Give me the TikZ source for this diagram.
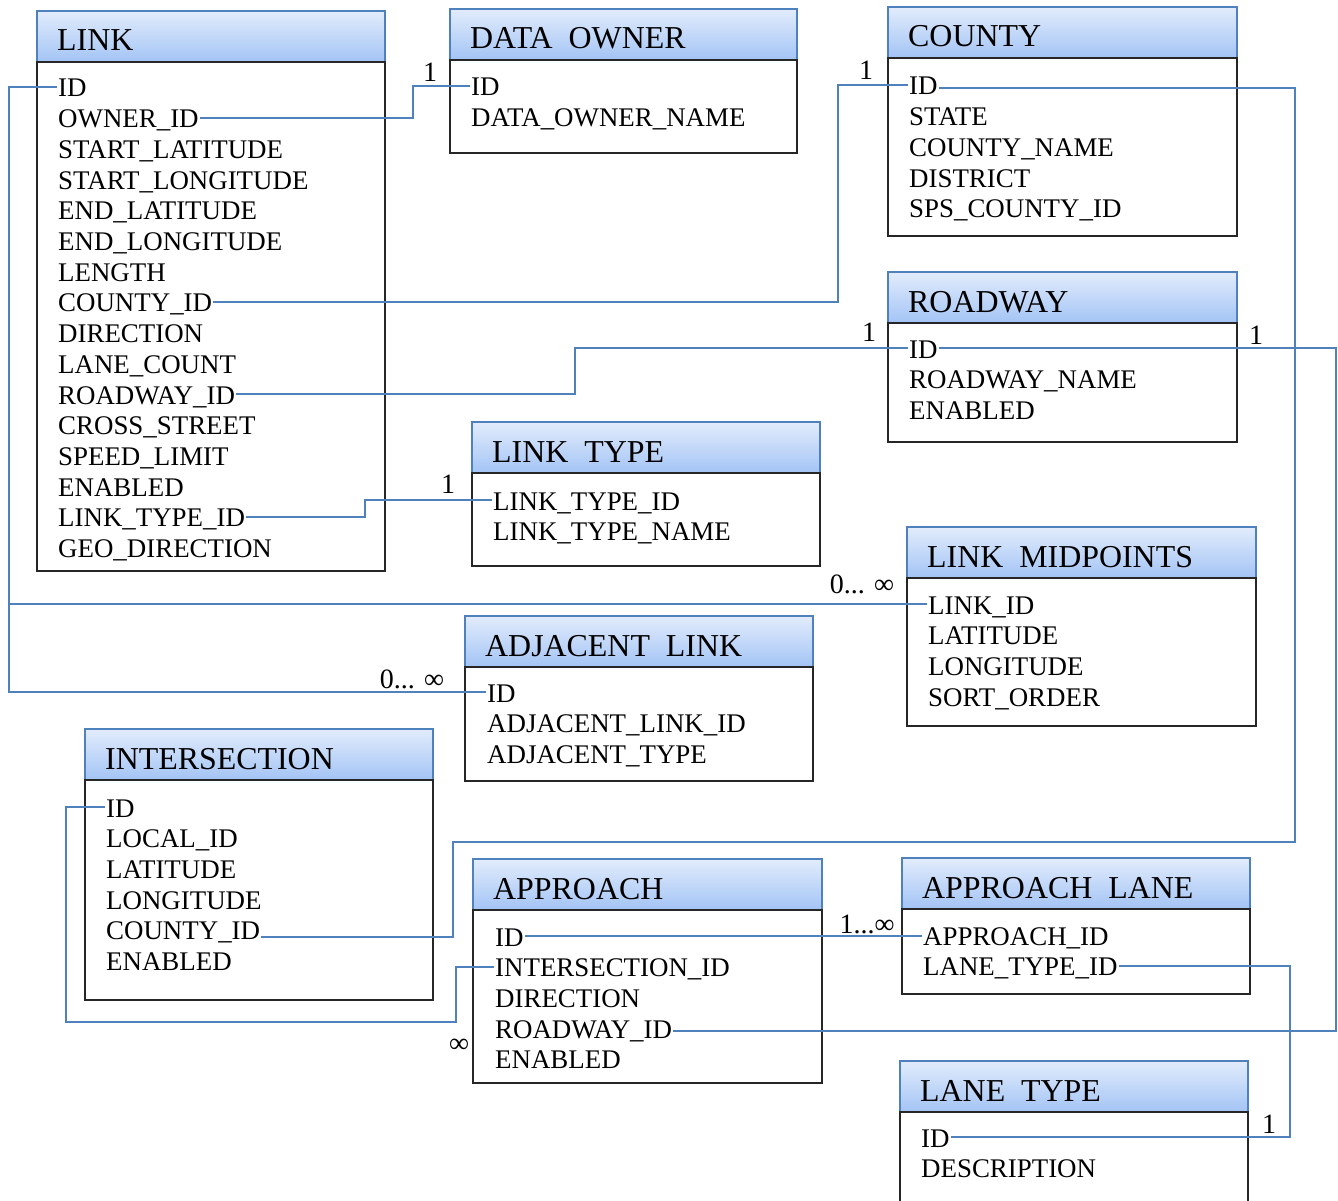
\documentclass[tikz,border=0pt]{standalone}
\usepackage{fontspec}
\setmainfont{Liberation Serif}
\definecolor{erdblue}{RGB}{79,129,189}
\definecolor{hdrtop}{RGB}{226,236,252}
\definecolor{hdrbot}{RGB}{163,196,245}
\tikzset{
  hdr/.style={draw=erdblue, line width=1.6pt, top color=hdrtop, bottom color=hdrbot},
  bodybox/.style={draw=black!85, line width=1.3pt, fill=white},
  fld/.style={anchor=base west, inner xsep=1pt, inner ysep=0pt, text height=20pt, text depth=0pt, font=\fontsize{26.9}{30}\selectfont},
  ttl/.style={anchor=base west, inner sep=0pt, font=\fontsize{31.9}{36}\selectfont},
  lbl/.style={anchor=base, inner sep=0pt, font=\fontsize{28}{30}\selectfont},
  conn/.style={draw=erdblue, line width=1.8pt},
}
\newcommand\erdtable[6]{%
  \path[hdr] (#2,#3) rectangle (#4,{#3+51});
  \path[bodybox] (#2,{#3+51}) rectangle (#4,#5);
  \node[ttl] (#1-title) at ({#2+20},{#3+40}) {#6};
}
\newcommand\erdfields[4]{%
  \foreach \t [count=\i from 0] in {#4} {\node[fld] (#1-\i) at (#2,{#3+\i*30.7}) {\t};}
}
\begin{document}
\begin{tikzpicture}[x=1pt,y=-1pt]
\path[fill=white] (0,0) rectangle (1338,1201);
\useasboundingbox (0,0) rectangle (1338,1201);

\erdtable{link}{37}{11}{385}{571}{LINK}
\erdfields{link}{57}{97}{ID,OWNER\_ID,START\_LATITUDE,START\_LONGITUDE,END\_LATITUDE,END\_LONGITUDE,LENGTH,COUNTY\_ID,DIRECTION,LANE\_COUNT,ROADWAY\_ID,CROSS\_STREET,SPEED\_LIMIT,ENABLED,LINK\_TYPE\_ID,GEO\_DIRECTION}

\erdtable{do}{450}{9}{797}{153}{DATA\ \ OWNER}
\erdfields{do}{470}{96}{ID,DATA\_OWNER\_NAME}

\erdtable{county}{888}{7}{1237}{236}{COUNTY}
\erdfields{county}{908}{95}{ID,STATE,COUNTY\_NAME,DISTRICT,SPS\_COUNTY\_ID}

\erdtable{road}{888}{272}{1237}{442}{ROADWAY}
\erdfields{road}{908}{358}{ID,ROADWAY\_NAME,ENABLED}

\erdtable{lt}{472}{422}{820}{566}{LINK\ \ TYPE}
\erdfields{lt}{492}{510}{LINK\_TYPE\_ID,LINK\_TYPE\_NAME}

\erdtable{mid}{907}{527}{1256}{726}{LINK\ \ MIDPOINTS}
\erdfields{mid}{927}{614}{LINK\_ID,LATITUDE,LONGITUDE,SORT\_ORDER}

\erdtable{adj}{465}{616}{813}{781}{ADJACENT\ \ LINK}
\erdfields{adj}{486}{702}{ID,ADJACENT\_LINK\_ID,ADJACENT\_TYPE}

\erdtable{int}{85}{729}{433}{1000}{INTERSECTION}
\erdfields{int}{105}{817}{ID,LOCAL\_ID,LATITUDE,LONGITUDE,COUNTY\_ID,ENABLED}

\erdtable{app}{473}{859}{822}{1083}{APPROACH}
\erdfields{app}{494}{946}{ID,INTERSECTION\_ID,DIRECTION,ROADWAY\_ID,ENABLED}

\erdtable{al}{902}{858}{1250}{994}{APPROACH\ \ LANE}
\erdfields{al}{922}{945}{APPROACH\_ID,LANE\_TYPE\_ID}

\erdtable{ltype}{900}{1061}{1248}{1230}{LANE\ \ TYPE}
\erdfields{ltype}{920}{1147}{ID,DESCRIPTION}

% routing columns / rows
\coordinate (busL) at (9,0);
\coordinate (x413) at (413,0);
\coordinate (x838) at (838,0);
\coordinate (x1295) at (1295,0);
\coordinate (y842) at (0,842);
\coordinate (x453) at (453,0);
\coordinate (x575) at (575,0);
\coordinate (x1336) at (1336,0);
\coordinate (x365) at (365,0);
\coordinate (x66) at (66,0);
\coordinate (y1022) at (0,1022);
\coordinate (x456) at (456,0);
\coordinate (x1290) at (1290,0);
\coordinate (cidR) at ([yshift=-3pt]county-0.east);
\coordinate (intC) at ([yshift=-7pt]int-4.east);
\coordinate (appRW) at ([yshift=-3pt]app-3.east);

% connectors
\draw[conn] (link-0.west) -- (link-0.west -| busL) -- (adj-0.west -| busL) -- (adj-0.west);
\draw[conn] (mid-0.west -| busL) -- (mid-0.west);
\draw[conn] (link-1.east) -- (link-1.east -| x413) -- (do-0.west -| x413) -- (do-0.west);
\draw[conn] (link-7.east) -- (link-7.east -| x838) -- (county-0.west -| x838) -- (county-0.west);
\draw[conn] (cidR) -- (cidR -| x1295) -- (x1295 |- y842) -- (x453 |- y842) -- (intC -| x453) -- (intC);
\draw[conn] (link-10.east) -- (link-10.east -| x575) -- (road-0.west -| x575) -- (road-0.west);
\draw[conn] (road-0.east) -- (road-0.east -| x1336) -- (appRW -| x1336) -- (appRW);
\draw[conn] (link-14.east) -- (link-14.east -| x365) -- (lt-0.west -| x365) -- (lt-0.west);
\draw[conn] (int-0.west) -- (int-0.west -| x66) -- (x66 |- y1022) -- (x456 |- y1022) -- (app-1.west -| x456) -- (app-1.west);
\draw[conn] (app-0.east) -- (app-0.east -| al-0.west);
\draw[conn] (al-1.east) -- (al-1.east -| x1290) -- (ltype-0.east -| x1290) -- (ltype-0.east);

% cardinality labels
\node[lbl] (m1) at (430,82) {1};
\node[lbl] (m2) at (866,80) {1};
\node[lbl] (m3) at (869,341) {1};
\node[lbl] (m4) at (1256,344) {1};
\node[lbl] (m5) at (448,493) {1};
\node[lbl] (m6) at (862,593) {0... ∞};
\node[lbl] (m7) at (412,688) {0... ∞};
\node[lbl] (m8) at (867,933) {1...∞};
\node[lbl] (m9) at (459,1052) {∞};
\node[lbl] (m10) at (1269,1133) {1};
\end{tikzpicture}
\end{document}
